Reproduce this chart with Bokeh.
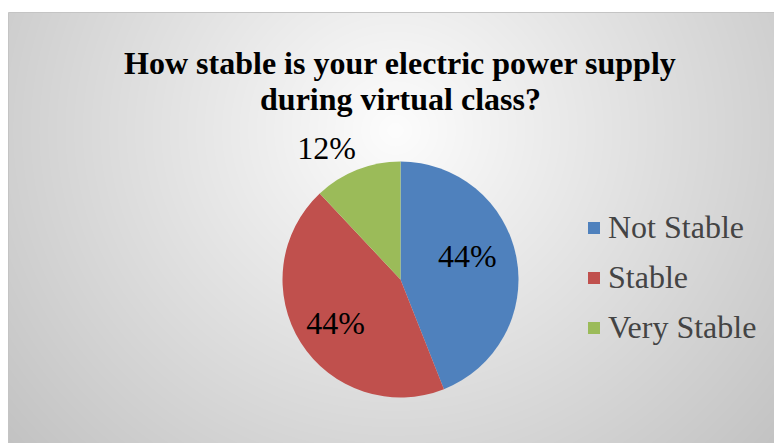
import numpy as np
from bokeh.plotting import figure
from bokeh.models import ColumnDataSource, Label, Range1d
from bokeh.core.properties import value
from bokeh.embed import file_html
from bokeh.resources import INLINE

# ---- data ----
categories = ["Not Stable", "Stable", "Very Stable"]
percent = [44, 44, 12]
labels = ["44%", "44%", "12%"]
colors = ["#4F81BD", "#C0504D", "#9BBB59"]
# label placement style: distance (fraction of radius) and angular nudge (deg)
label_radius = [0.60, 0.665, 1.28]
label_nudge = [8.2, 1.7, 7.7]

W, H = 774, 443
p = figure(width=W, height=H, output_backend="svg", toolbar_location=None,
           x_range=Range1d(0, W), y_range=Range1d(0, H),
           min_border=0, outline_line_color=None)
p.axis.visible = False
p.grid.visible = False
p.background_fill_color = "white"
p.border_fill_color = "white"

# ---- chart-area radial gradient background ----
x0, ytop = 8, H - 12
gw, gh = W - x0, ytop
xs = np.arange(gw) + x0 + 0.5
ys = np.arange(gh) + 0.5
XX, YY = np.meshgrid(xs, ys)
cx, cy = 395, H - 130
d = np.sqrt((XX - cx) ** 2 + ((YY - cy) / 0.95) ** 2)
v = np.clip(253 - 0.115 * d, 185, 253).astype(np.uint32)
img = (255 << 24) | (v << 16) | (v << 8) | v
p.image_rgba(image=[img.astype(np.uint32)], x=x0, y=0, dw=gw, dh=gh)
p.quad(left=x0, right=W + 2, bottom=-2, top=ytop, fill_color=None,
       line_color="#c4c4c4", line_width=1)

# ---- pie ----
cxp, cyp, r = 400, H - 279, 118
frac = np.array(percent, dtype=float) / sum(percent)
cum = np.concatenate([[0], np.cumsum(frac)])
start = np.pi / 2 - cum[:-1] * 2 * np.pi
end = np.pi / 2 - cum[1:] * 2 * np.pi
mid = (start + end) / 2 + np.radians(label_nudge)
src = ColumnDataSource(dict(cat=categories, start=start, end=end, color=colors))
p.wedge(x=cxp, y=cyp, radius=r, start_angle="start", end_angle="end",
        direction="clock", fill_color="color", line_color=None,
        legend_field="cat", source=src)

lx = cxp + np.array(label_radius) * r * np.cos(mid)
ly = cyp + np.array(label_radius) * r * np.sin(mid)
lsrc = ColumnDataSource(dict(x=lx, y=ly, t=labels))
p.text(x="x", y="y", text="t", source=lsrc, text_align="center",
       text_baseline="middle", text_font=value("Liberation Serif"),
       text_font_size="32px", text_color="black")

# ---- title ----
title_lines = ["How stable is your electric power supply", "during virtual class?"]
for i, t in enumerate(title_lines):
    p.add_layout(Label(x=400, y=H - 62 - i * 36, text=t,
                       x_units="screen", y_units="screen",
                       text_align="center", text_baseline="alphabetic",
                       text_font="Liberation Serif", text_font_style="bold",
                       text_font_size="32px", text_color="black"))

# ---- legend ----
lg = p.legend[0]
lg.location = (586, 97)
lg.glyph_width = 15
lg.glyph_height = 15
lg.label_standoff = 7
lg.label_text_font = "Liberation Serif"
lg.label_text_font_size = "32px"
lg.spacing = 13
lg.padding = 0
lg.margin = 0
lg.background_fill_alpha = 0
lg.border_line_alpha = 0

open("out.html", "w").write(file_html(p, INLINE))
